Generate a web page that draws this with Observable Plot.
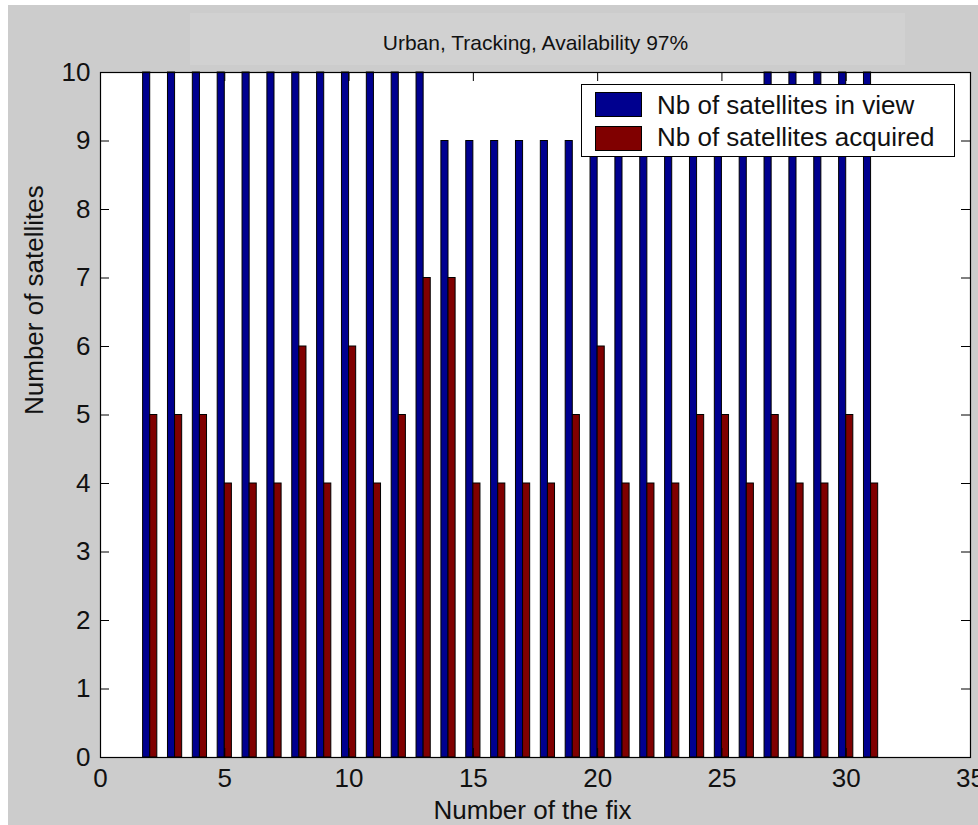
<!DOCTYPE html>
<html>
<head>
<meta charset="utf-8">
<script src="https://cdn.jsdelivr.net/npm/d3@7"></script>
<script src="https://cdn.jsdelivr.net/npm/@observablehq/plot@0.6"></script>
<style>
  html, body { margin: 0; padding: 0; background: #ffffff; }
  #fig { position: relative; width: 978px; height: 825px; overflow: hidden; font-family: "Liberation Sans", Arial, sans-serif; }
  #bg { position: absolute; left: 8px; top: 5px; right: 0; bottom: 0; background: #cccccc; }
  #patch { position: absolute; left: 190px; top: 13px; width: 715px; height: 52px; background: #d1d1d1; }
  #chart { position: absolute; left: 0; top: 0; }
  #legend { position: absolute; left: 581px; top: 84px; width: 374px; height: 73px; background: #ffffff; border: 1px solid #000; box-sizing: border-box; }
  .sw { position: absolute; left: 13px; width: 47px; height: 25px; border: 1px solid #000; box-sizing: border-box; }
  .lt { position: absolute; left: 75px; height: 30px; line-height: 30px; font-size: 26px; color: #111; white-space: nowrap; }
</style>
</head>
<body>
<div id="fig">
  <div id="bg"></div>
  <div id="patch"></div>
  <div id="chart"></div>
  <div id="legend"></div>
</div>
<script>
// ---- data ----
const fixes    = [2,3,4,5,6,7,8,9,10,11,12,13,14,15,16,17,18,19,20,21,22,23,24,25,26,27,28,29,30,31];
const inView   = [10,10,10,10,10,10,10,10,10,10,10,10,9,9,9,9,9,9,9,9,9,9,9,9,9,10,10,10,10,10];
const acquired = [5,5,5,4,4,4,6,4,6,4,5,7,7,4,4,4,4,5,6,4,4,4,5,5,4,5,4,4,5,4];
const seriesNames  = ["Nb of satellites in view", "Nb of satellites acquired"];
const seriesColors = ["#00008F", "#800000"];
const xTicks = [0,5,10,15,20,25,30,35];
const yTicks = [0,1,2,3,4,5,6,7,8,9,10];
const titleText = "Urban, Tracking, Availability 97%";
const xLabel = "Number of the fix";
const yLabel = "Number of satellites";

// ---- build table ----
const rows = fixes.flatMap((f, i) => [
  {fix: f, series: 0, value: inView[i]},
  {fix: f, series: 1, value: acquired[i]}
]);

const BW = 0.2857; // bar width in x units
const W = 978, H = 825, mL = 100, mR = 8, mT = 72, mB = 68;
const plotW = W - mL - mR, plotH = H - mT - mB;
const TL = 9; // inward tick length
const txt = "#111";

const chart = Plot.plot({
  width: W, height: H,
  marginLeft: mL, marginRight: mR, marginTop: mT, marginBottom: mB,
  x: {domain: [0, 35], axis: null},
  y: {domain: [0, 10], axis: null},
  style: {background: "transparent", fontFamily: "'Liberation Sans', Arial, sans-serif", overflow: "visible", color: txt},
  marks: [
    Plot.frame({fill: "white", stroke: null}),
    Plot.rect(rows, {
      x1: d => d.series === 0 ? d.fix - BW : d.fix,
      x2: d => d.series === 0 ? d.fix : d.fix + BW,
      y1: 0, y2: "value",
      fill: d => seriesColors[d.series],
      stroke: "black", strokeWidth: 1
    }),
    // inward ticks
    Plot.tickY(yTicks.slice(1, -1), {y: d => d, insetRight: plotW - TL, stroke: "black"}),
    Plot.tickY(yTicks.slice(1, -1), {y: d => d, insetLeft: plotW - TL, stroke: "black"}),
    Plot.tickX(xTicks.slice(1, -1), {x: d => d, insetBottom: plotH - TL, stroke: "black"}),
    Plot.tickX(xTicks.slice(1, -1), {x: d => d, insetTop: plotH - TL, stroke: "black"}),
    Plot.frame({stroke: "black", strokeWidth: 1.2}),
    // tick labels
    Plot.text(yTicks, {y: d => d, text: d => String(d), frameAnchor: "left", textAnchor: "end", dx: -10, fontSize: 26, fill: txt}),
    Plot.text(xTicks, {x: d => d, text: d => String(d), frameAnchor: "bottom", lineAnchor: "top", dy: 11, fontSize: 26, fill: txt}),
    // axis labels & title
    Plot.text([xLabel], {text: d => d, frameAnchor: "bottom", lineAnchor: "bottom", dy: 61, dx: -3, fontSize: 26, fill: txt}),
    Plot.text([yLabel], {text: d => d, frameAnchor: "left", lineAnchor: "bottom", rotate: -90, dx: -58, fontSize: 26, fill: txt}),
    Plot.text([titleText], {text: d => d, frameAnchor: "top", lineAnchor: "bottom", dy: -23, fontSize: 21, fill: txt})
  ]
});
document.getElementById("chart").appendChild(chart);

// ---- legend ----
const legend = document.getElementById("legend");
seriesNames.forEach((name, i) => {
  const sw = document.createElement("div");
  sw.className = "sw";
  sw.style.top = (7 + i * 34) + "px";
  sw.style.background = seriesColors[i];
  legend.appendChild(sw);
  const t = document.createElement("div");
  t.className = "lt";
  t.style.top = (5 + i * 32) + "px";
  t.textContent = name;
  legend.appendChild(t);
});
</script>
</body>
</html>
